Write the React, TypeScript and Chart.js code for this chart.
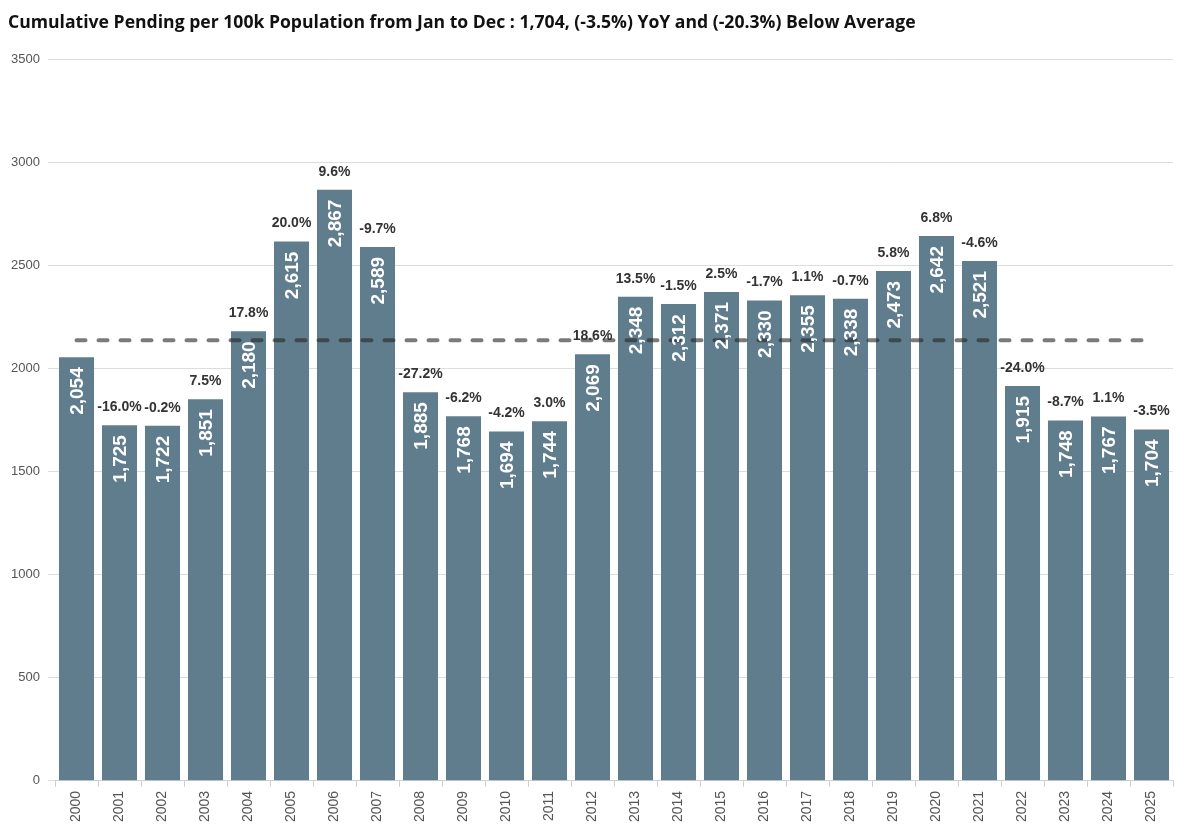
import React, { useEffect, useRef } from "react";
import { Chart, registerables } from "chart.js";

Chart.register(...registerables);

const TITLE = "Cumulative Pending per 100k Population from Jan to Dec : 1,704, (-3.5%) YoY and (-20.3%) Below Average";

const years = [
  "2000", "2001", "2002", "2003", "2004", "2005", "2006", "2007", "2008", "2009",
  "2010", "2011", "2012", "2013", "2014", "2015", "2016", "2017", "2018", "2019",
  "2020", "2021", "2022", "2023", "2024", "2025",
];

const pendingValues = [
  2054, 1725, 1722, 1851, 2180, 2615, 2867, 2589, 1885, 1768,
  1694, 1744, 2069, 2348, 2312, 2371, 2330, 2355, 2338, 2473,
  2642, 2521, 1915, 1748, 1767, 1704,
];

const yoyLabels = [
  "", "-16.0%", "-0.2%", "7.5%", "17.8%", "20.0%", "9.6%", "-9.7%", "-27.2%", "-6.2%",
  "-4.2%", "3.0%", "18.6%", "13.5%", "-1.5%", "2.5%", "-1.7%", "1.1%", "-0.7%", "5.8%",
  "6.8%", "-4.6%", "-24.0%", "-8.7%", "1.1%", "-3.5%",
];

const averageValue = 2137;

const yTicks = [0, 500, 1000, 1500, 2000, 2500, 3000, 3500];

const FONT = "'Liberation Sans', Arimo, Arial, sans-serif";

const labelPlugin = {
  id: "barLabels",
  afterDatasetsDraw(chart: any) {
    const ctx = chart.ctx;
    const meta = chart.getDatasetMeta(0);
    ctx.save();
    meta.data.forEach((bar: any, i: number) => {
      const x = bar.x;
      const top = bar.y;
      ctx.save();
      ctx.translate(x, top + 10);
      ctx.rotate(-Math.PI / 2);
      ctx.fillStyle = "#ffffff";
      ctx.font = `bold 19px ${FONT}`;
      ctx.textAlign = "right";
      ctx.textBaseline = "middle";
      ctx.fillText(pendingValues[i].toLocaleString("en-US"), 0, 1);
      ctx.restore();
      if (yoyLabels[i]) {
        ctx.fillStyle = "#333333";
        ctx.font = `bold 14px ${FONT}`;
        ctx.textAlign = "center";
        ctx.textBaseline = "middle";
        ctx.fillText(yoyLabels[i], x, top - 18);
      }
    });
    ctx.restore();
  },
};

export default function App() {
  const canvasRef = useRef<HTMLCanvasElement | null>(null);

  useEffect(() => {
    document.body.style.margin = "0";
    const canvas = canvasRef.current;
    if (!canvas) return;
    const chart = new Chart(canvas, {
      type: "bar",
      data: {
        labels: years,
        datasets: [
          {
            type: "bar",
            data: pendingValues,
            backgroundColor: "#607d8e",
            categoryPercentage: 0.815,
            barPercentage: 1,
            order: 2,
          },
          {
            type: "line",
            data: years.map(() => averageValue),
            borderColor: "rgba(40,40,40,0.62)",
            borderWidth: 4,
            borderDash: [9, 13],
            borderDashOffset: 0,
            borderCapStyle: "round",
            pointRadius: 0,
            fill: false,
            order: 1,
          } as any,
        ],
      },
      options: {
        responsive: true,
        maintainAspectRatio: false,
        animation: false,
        layout: { padding: { left: 8, right: 11, top: 4, bottom: 3 } },
        plugins: {
          legend: { display: false },
          tooltip: { enabled: false },
          title: {
            display: true,
            text: TITLE,
            align: "start",
            color: "#111111",
            font: { family: "'Open Sans', sans-serif", size: 17.6, weight: "bold" },
            padding: { top: 8, bottom: 26 },
          },
        },
        scales: {
          x: {
            offset: true,
            grid: { display: true, drawOnChartArea: false, offset: true, tickLength: 6, color: "#d0d0d0" },
            border: { display: true, color: "#d0d0d0" },
            ticks: {
              maxRotation: 90,
              minRotation: 90,
              color: "#555555",
              padding: 4,
              font: { family: FONT, size: 14 },
            },
          },
          y: {
            min: 0,
            max: 3500,
            afterBuildTicks: (axis: any) => {
              axis.ticks = yTicks.map((v) => ({ value: v }));
            },
            afterFit: (axis: any) => {
              axis.width = 47;
            },
            grid: { color: "#dddddd", tickLength: 7, drawTicks: true },
            border: { display: false },
            ticks: {
              color: "#555555",
              padding: 8,
              font: { family: FONT, size: 13 },
              callback: (v: any) => String(v),
            },
          },
        },
      },
      plugins: [labelPlugin],
    });
    return () => chart.destroy();
  }, []);

  return (
    <div style={{ position: "absolute", left: 0, top: 0, width: 1184, height: 829 }}>
      <canvas ref={canvasRef} />
    </div>
  );
}
